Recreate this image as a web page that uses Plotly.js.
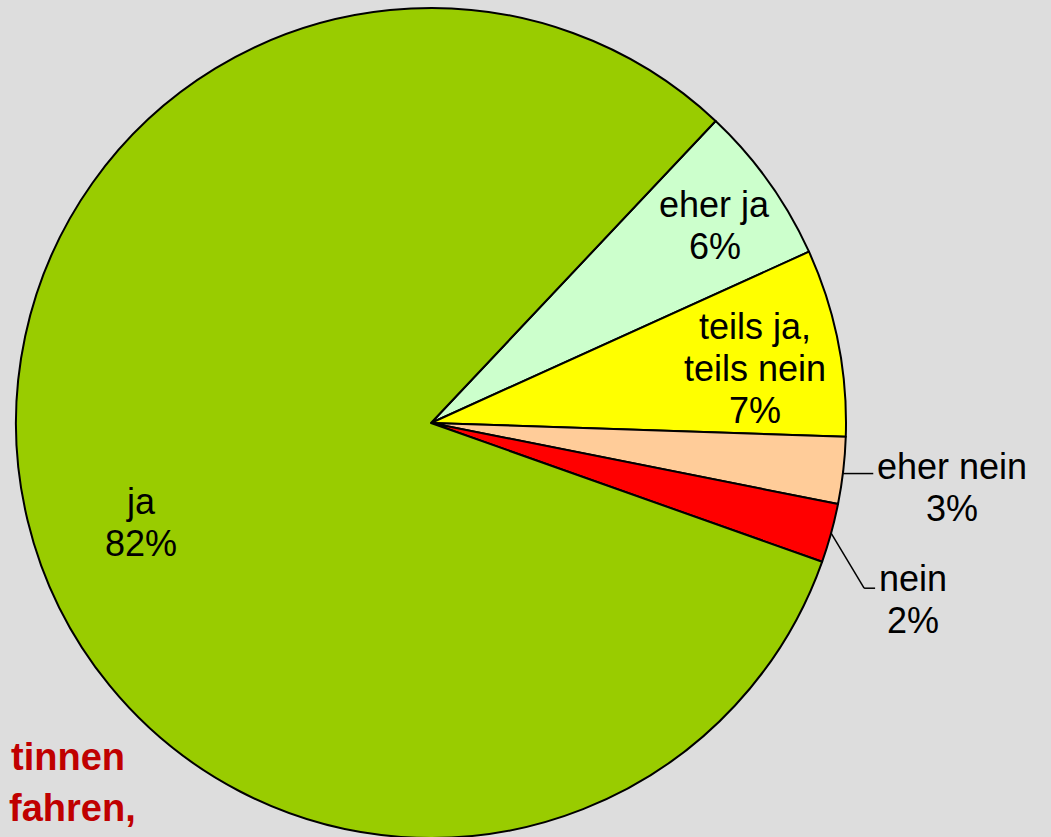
<!DOCTYPE html>
<html>
<head>
<meta charset="utf-8">
<script src="https://cdn.plot.ly/plotly-3.0.1.min.js"></script>
<style>
  html, body { margin: 0; padding: 0; background: #dddddd; overflow: hidden; }
  #chart { width: 1051px; height: 860px; }
</style>
</head>
<body>
<div id="chart"></div>
<script>
// answers, clockwise from the upper right
const labels = ['eher ja', 'teils ja,<br>teils nein', 'eher nein', 'nein', 'ja'];
const shares = [6.2, 7.3, 2.6, 2.3, 81.6];
const colors = ['#ccffcc', '#ffff00', '#ffcc99', '#ff0000', '#99cc00'];
// what is left visible of the slide title
const titleLines = ['tinnen', 'fahren,'];

// page geometry (px) of the figure
const W = 1051, H = 860;
const CX = 431, CY = 423, R = 415;
const START = 43.3; // degrees clockwise from 12 o'clock
const FONT = 'Liberation Sans, Arial, sans-serif';
const SIZE = 36, GAP = 42;

// where each label sits: inside -> fraction of radius (+ small angle nudge),
// outside -> leader line (elbow offset, horizontal run)
const placement = [
  { k: 0.83, dAng: 1 },
  { k: 0.79, dAng: 2 },
  { out: true, elbow: [0, 3], run: 30, dy: -7 },
  { out: true, elbow: [33, 55], run: 11, dy: -10 },
  { k: 0.74, dAng: -5.7 }
];

const px = x => x / W;
const py = y => 1 - y / H;
const polar = (deg, rad) => {
  const a = deg * Math.PI / 180;
  return [CX + rad * Math.sin(a), CY - rad * Math.cos(a)];
};

const ctx = document.createElement('canvas').getContext('2d');
ctx.font = SIZE + 'px "Liberation Sans"';
const textWidth = s => ctx.measureText(s).width;

const annotations = [];
const shapes = [];
const addLine = (s, x, y) => annotations.push({
  xref: 'paper', yref: 'paper', x: px(x), y: py(y),
  xanchor: 'center', yanchor: 'middle',
  showarrow: false, text: s,
  font: { family: FONT, size: SIZE, color: '#000000' }
});

const total = shares.reduce((a, b) => a + b, 0);
let cum = 0;
shares.forEach((v, i) => {
  const mid = START + (cum + v / 2) / total * 360;
  cum += v;
  const lines = labels[i].split('<br>').concat(Math.round(v / total * 100) + '%');
  const p = placement[i];
  if (!p.out) {
    const [x, y] = polar(mid + p.dAng, p.k * R);
    lines.forEach((s, j) => addLine(s, x, y + (j - (lines.length - 1) / 2) * GAP - 2));
  } else {
    const [ex, ey] = polar(mid, R);
    const qx = ex + p.elbow[0], qy = ey + p.elbow[1];
    const rx = qx + p.run;
    const line = { color: '#000000', width: 1.5 };
    if (p.elbow[1] !== 0) {
      shapes.push({ type: 'line', xref: 'paper', yref: 'paper',
        x0: px(ex), y0: py(ey), x1: px(qx), y1: py(qy), line: line });
    }
    shapes.push({ type: 'line', xref: 'paper', yref: 'paper',
      x0: px(p.elbow[1] !== 0 ? qx : ex), y0: py(qy), x1: px(rx), y1: py(qy), line: line });
    const bw = Math.max.apply(null, lines.map(textWidth));
    lines.forEach((s, j) => addLine(s, rx + 4 + bw / 2, qy + p.dy + j * GAP));
  }
});

// cut-off slide title on the left, lines end at different x
const titleRight = [127, 138];
titleLines.forEach((s, j) => annotations.push({
  xref: 'paper', yref: 'paper',
  x: px(titleRight[j]), y: py(757 + j * 51),
  xanchor: 'right', yanchor: 'middle',
  showarrow: false,
  text: '<b>' + s + '</b>',
  font: { family: FONT, size: 38, color: '#c00000' }
}));

const pie = {
  type: 'pie',
  labels: labels,
  values: shares,
  sort: false,
  direction: 'clockwise',
  rotation: START,
  marker: { colors: colors, line: { color: '#000000', width: 2 } },
  textinfo: 'none',
  hoverinfo: 'none',
  domain: { x: [px(CX - R), px(CX + R)], y: [py(CY + R), py(CY - R)] }
};

const layout = {
  width: W,
  height: H,
  margin: { l: 0, r: 0, t: 0, b: 0 },
  paper_bgcolor: '#dddddd',
  showlegend: false,
  annotations: annotations,
  shapes: shapes
};

Plotly.newPlot('chart', [pie], layout, { displayModeBar: false, staticPlot: true });
</script>
</body>
</html>
